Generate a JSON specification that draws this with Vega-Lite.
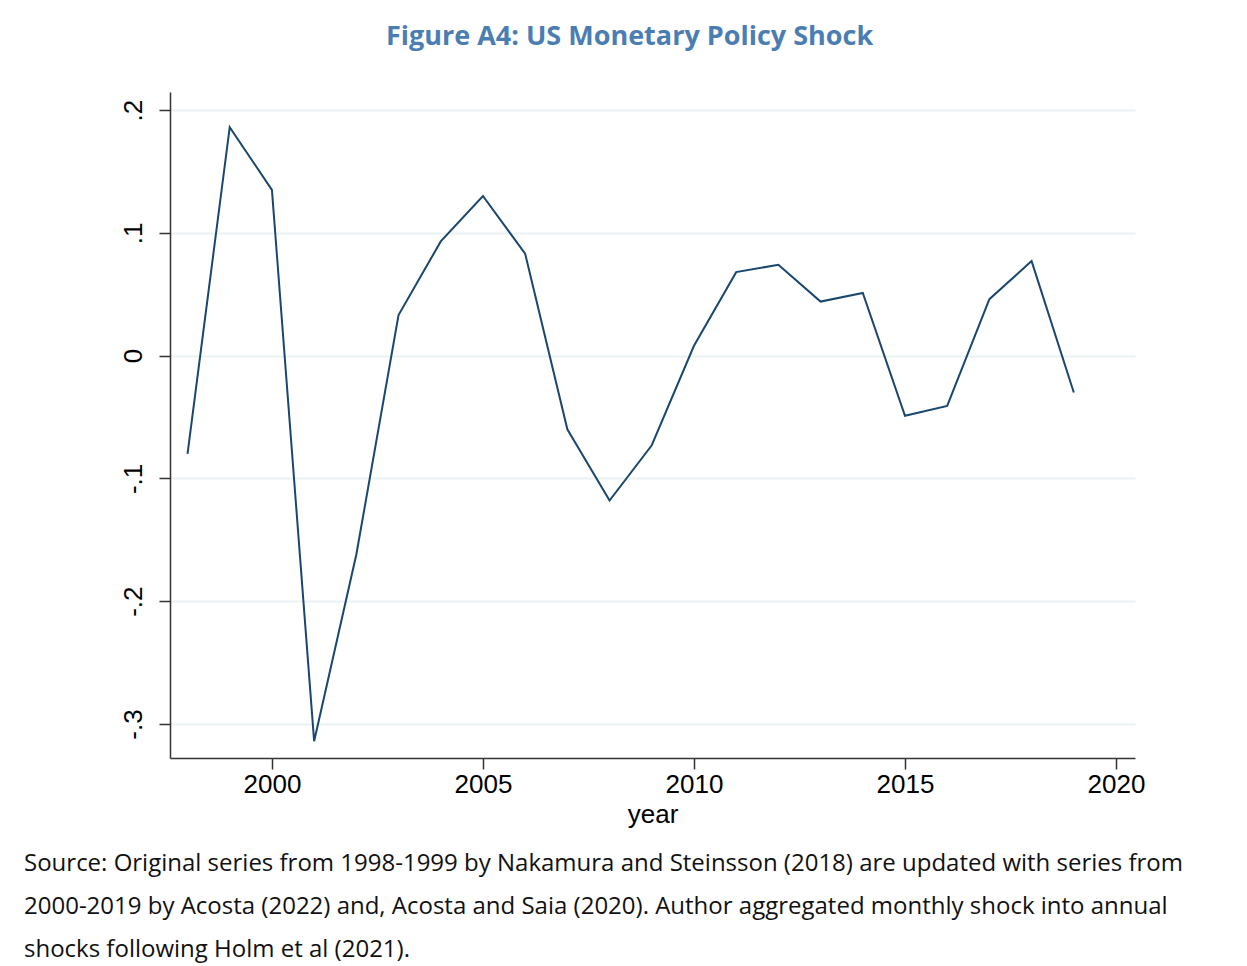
{
  "$schema": "https://vega.github.io/schema/vega-lite/v6.json",
  "background": "white",
  "padding": {"left": 24, "top": 23, "right": 10, "bottom": 5},
  "title": {
    "text": [
      "Source: Original series from 1998-1999 by Nakamura and Steinsson (2018) are updated with series from",
      "2000-2019 by Acosta (2022) and, Acosta and Saia (2020). Author aggregated monthly shock into annual",
      "shocks following Holm et al (2021)."
    ],
    "orient": "bottom",
    "anchor": "start",
    "frame": "bounds",
    "dx": -96,
    "offset": 25,
    "font": "Open Sans",
    "fontSize": 24,
    "fontWeight": "normal",
    "color": "#111111",
    "lineHeight": 43,
    "baseline": "top"
  },
  "vconcat": [
    {
      "title": {
        "text": "Figure A4: US Monetary Policy Shock",
        "anchor": "middle",
        "font": "Open Sans",
        "fontSize": 27,
        "fontWeight": "bold",
        "color": "#4a7eb3",
        "offset": 41,
        "dx": -23
      },
      "width": 965,
      "height": 666,
      "data": {
        "values": [
          {"year": 1998, "shock": -0.080},
          {"year": 1999, "shock": 0.186},
          {"year": 2000, "shock": 0.135},
          {"year": 2001, "shock": -0.314},
          {"year": 2002, "shock": -0.162},
          {"year": 2003, "shock": 0.033},
          {"year": 2004, "shock": 0.093},
          {"year": 2005, "shock": 0.130},
          {"year": 2006, "shock": 0.083},
          {"year": 2007, "shock": -0.060},
          {"year": 2008, "shock": -0.118},
          {"year": 2009, "shock": -0.073},
          {"year": 2010, "shock": 0.008},
          {"year": 2011, "shock": 0.068},
          {"year": 2012, "shock": 0.074},
          {"year": 2013, "shock": 0.044},
          {"year": 2014, "shock": 0.051},
          {"year": 2015, "shock": -0.049},
          {"year": 2016, "shock": -0.041},
          {"year": 2017, "shock": 0.046},
          {"year": 2018, "shock": 0.077},
          {"year": 2019, "shock": -0.030}
        ]
      },
      "mark": {"type": "line", "color": "#1a476f", "strokeWidth": 2},
      "encoding": {
        "x": {
          "field": "year",
          "type": "quantitative",
          "scale": {"domain": [1997.585, 2020.45], "nice": false, "zero": false},
          "axis": {
            "values": [2000, 2005, 2010, 2015, 2020],
            "format": "d",
            "grid": false,
            "title": "year",
            "titleFont": "Liberation Sans",
            "titleFontSize": 26,
            "titleFontWeight": "normal",
            "titleColor": "#000000",
            "titlePadding": 4,
            "labelFont": "Liberation Sans",
            "labelFontSize": 26,
            "labelColor": "#000000",
            "labelPadding": 2,
            "tickSize": 11,
            "tickColor": "#333333",
            "tickWidth": 1.5,
            "domainColor": "#333333",
            "domainWidth": 1.5
          }
        },
        "y": {
          "field": "shock",
          "type": "quantitative",
          "scale": {"domain": [-0.3277, 0.2147], "nice": false, "zero": false},
          "axis": {
            "values": [-0.3, -0.2, -0.1, 0, 0.1, 0.2],
            "labelExpr": "datum.value == 0 ? '0' : (datum.value < 0 ? '-' : '') + '.' + toString(round(abs(datum.value) * 10))",
            "labelAngle": 270,
            "labelAlign": "center",
            "labelBaseline": "bottom",
            "labelFont": "Liberation Sans",
            "labelFontSize": 26,
            "labelColor": "#000000",
            "labelPadding": 13,
            "title": null,
            "grid": true,
            "gridColor": "#eaf2f3",
            "gridWidth": 2,
            "tickSize": 11,
            "tickColor": "#333333",
            "tickWidth": 1.5,
            "domainColor": "#333333",
            "domainWidth": 1.5
          }
        }
      }
    }
  ],
  "config": {
    "view": {"stroke": null}
  }
}
